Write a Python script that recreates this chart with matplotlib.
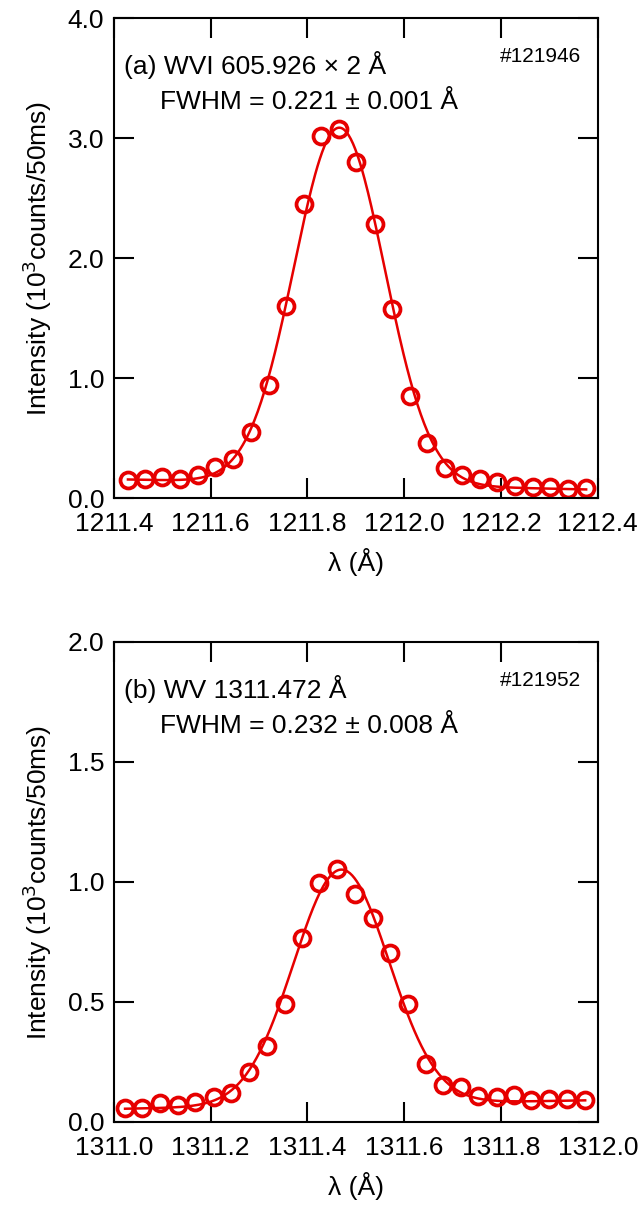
import numpy as np
import matplotlib
matplotlib.use('Agg')
import matplotlib.pyplot as plt

plt.rcParams['font.family'] = ['Liberation Sans', 'DejaVu Sans']

# panel (a): WVI 605.926 x 2
wl_a = [1211.429, 1211.464, 1211.500, 1211.537, 1211.573, 1211.609, 1211.647,
        1211.683, 1211.720, 1211.756, 1211.792, 1211.829, 1211.865, 1211.901,
        1211.939, 1211.975, 1212.011, 1212.048, 1212.084, 1212.119, 1212.157,
        1212.192, 1212.228, 1212.266, 1212.302, 1212.338, 1212.376]
int_a = [0.150, 0.158, 0.172, 0.158, 0.191, 0.255, 0.325, 0.552, 0.940, 1.600,
         2.447, 3.021, 3.079, 2.799, 2.280, 1.573, 0.852, 0.463, 0.247, 0.191,
         0.158, 0.130, 0.103, 0.089, 0.089, 0.075, 0.080]
# gaussian fit: amplitude, centre, fwhm, baseline at left / right end
fit_a = dict(amp=2.97, cen=1211.866, fwhm=0.221, b_left=0.155, b_right=0.072)

# panel (b): WV 1311.472
wl_b = [1311.023, 1311.059, 1311.095, 1311.132, 1311.168, 1311.206, 1311.242,
        1311.279, 1311.316, 1311.353, 1311.389, 1311.424, 1311.462, 1311.499,
        1311.535, 1311.571, 1311.608, 1311.644, 1311.680, 1311.717, 1311.753,
        1311.791, 1311.827, 1311.863, 1311.900, 1311.936, 1311.974]
int_b = [0.058, 0.060, 0.079, 0.069, 0.083, 0.104, 0.120, 0.208, 0.316, 0.491,
         0.768, 0.997, 1.055, 0.951, 0.851, 0.706, 0.491, 0.242, 0.155, 0.145,
         0.108, 0.104, 0.111, 0.090, 0.097, 0.097, 0.090]
fit_b = dict(amp=0.98, cen=1311.470, fwhm=0.232, b_left=0.055, b_right=0.090)

red = '#e60000'


def gauss_fit(x, p):
    x0, x1 = x[0], x[-1]
    base = p['b_left'] + (p['b_right'] - p['b_left']) * (x - x0) / (x1 - x0)
    sig = p['fwhm'] / 2.3548
    return base + p['amp'] * np.exp(-0.5 * ((x - p['cen']) / sig) ** 2)


def draw(ax, wl, inten, p, xlim, ylim, ystep, title, fwhm_txt, shot):
    xx = np.linspace(wl[0], wl[-1], 400)
    ax.plot(xx, gauss_fit(xx, p), color=red, lw=1.8)
    ax.plot(wl, inten, 'o', mfc='none', mec=red, mew=2.7, ms=11.5)
    ax.set_xlim(*xlim)
    ax.set_ylim(*ylim)
    ax.set_xticks(np.arange(xlim[0], xlim[1] + 0.01, 0.2))
    ax.set_yticks(np.arange(ylim[0], ylim[1] + 0.01, ystep))
    ax.xaxis.set_major_formatter('{x:.1f}')
    ax.yaxis.set_major_formatter('{x:.1f}')
    ax.tick_params(direction='in', length=14.5, width=1.5, top=True, right=True,
                   labelsize=19, pad=7)
    ax.tick_params(axis='x', pad=10)
    for s in ax.spines.values():
        s.set_linewidth(1.5)
    ax.set_xlabel('λ (Å)', fontsize=19, labelpad=9)
    ax.set_ylabel('Intensity (10$^3$counts/50ms)', fontsize=19, labelpad=10)
    ax.text(0.021, 0.902, title, transform=ax.transAxes, fontsize=19, va='center')
    ax.text(0.095, 0.825, fwhm_txt, transform=ax.transAxes, fontsize=19, va='center')
    ax.text(0.965, 0.919, shot, transform=ax.transAxes, fontsize=15, va='center', ha='right')


fig = plt.figure(figsize=(6.4, 12.06), dpi=100)
ax1 = fig.add_axes([0.178, 0.587, 0.756, 0.398])
ax2 = fig.add_axes([0.178, 0.0697, 0.756, 0.398])

draw(ax1, wl_a, int_a, fit_a, (1211.4, 1212.4), (0, 4), 1.0,
     '(a) WVI 605.926 × 2 Å', 'FWHM = 0.221 ± 0.001 Å', '#121946')
draw(ax2, wl_b, int_b, fit_b, (1311.0, 1312.0), (0, 2), 0.5,
     '(b) WV 1311.472 Å', 'FWHM = 0.232 ± 0.008 Å', '#121952')

fig.savefig('out.png', dpi=100)
